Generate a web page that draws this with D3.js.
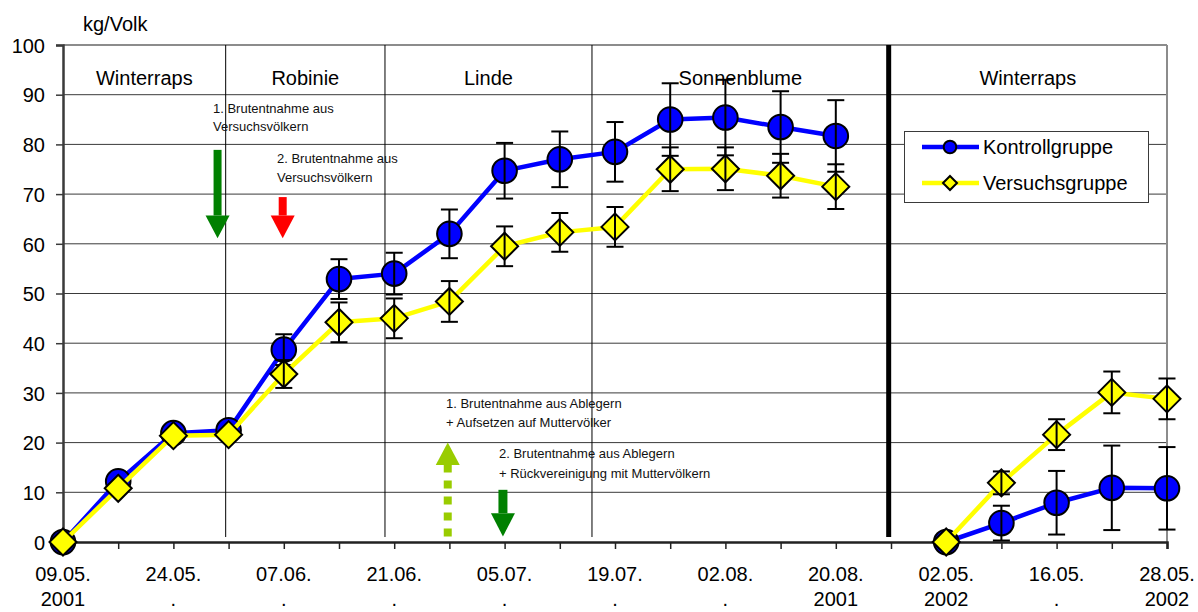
<!DOCTYPE html>
<html>
<head>
<meta charset="utf-8">
<script src="https://cdn.jsdelivr.net/npm/d3@7"></script>
<style>
  html, body { margin: 0; padding: 0; background: #fff; }
  svg { display: block; font-family: "Liberation Sans", Arial, sans-serif; }
</style>
</head>
<body>
<svg id="chart" width="1198" height="612"></svg>
<script>
// ---------- data ----------
const dateLabels = ["09.05.","","24.05.","","07.06.","","21.06.","","05.07.","","19.07.","","02.08.","","20.08.","","02.05.","","16.05.","","28.05."];
const yearLabels = ["2001","",".","",".","",".","",".","",".","",".","","2001","","2002","",".","","2002"];
const kontroll    = [0, 12.2, 21.9, 22.5, 38.7, 52.9, 54.0, 62.0, 74.7, 77.0, 78.5, 85.0, 85.4, 83.5, 81.7, null, 0, 3.8, 7.9, 10.9, 10.8];
const kontrollErr = [0, 0, 0, 0, 3.1, 4.0, 4.2, 4.9, 5.6, 5.6, 6.0, 7.3, 7.6, 7.2, 7.2, null, 0, 3.5, 6.4, 8.5, 8.3];
const versuch     = [0, 10.8, 21.4, 21.6, 33.8, 44.2, 45.0, 48.4, 59.5, 62.3, 63.4, 75.0, 75.1, 73.7, 71.5, null, 0, 11.9, 21.6, 30.1, 28.8];
const versuchErr  = [0, 0, 0, 0, 2.8, 4.0, 4.0, 4.1, 4.0, 3.9, 4.0, 4.4, 4.3, 4.4, 4.5, null, 0, 2.3, 3.1, 4.2, 4.1];
const yTicks = [0, 10, 20, 30, 40, 50, 60, 70, 80, 90, 100];
const seasons = ["Winterraps", "Robinie", "Linde", "Sonnenblume", "Winterraps"];
const seasonBounds = [0, 2.947, 5.833, 9.583, 14.958, 20]; // in category units
const seriesNames = ["Kontrollgruppe", "Versuchsgruppe"];

// ---------- layout ----------
const svg = d3.select("#chart");
const x = d3.scaleLinear().domain([0, 20]).range([63, 1167]);
const y = d3.scaleLinear().domain([0, 100]).range([542, 45]);
const FONT = 20;

// horizontal gridlines
svg.append("g").selectAll("line").data(yTicks.filter(t => t > 0 && t < 100)).join("line")
  .attr("x1", x(0)).attr("x2", x(20)).attr("y1", d => y(d)).attr("y2", d => y(d))
  .attr("stroke", "#3a3a3a").attr("stroke-width", 1);

// plot border (top & right, gray)
svg.append("line").attr("x1", x(0)).attr("x2", x(20)).attr("y1", y(100)).attr("y2", y(100))
  .attr("stroke", "#8c8c8c").attr("stroke-width", 2);
svg.append("line").attr("x1", x(20)).attr("x2", x(20)).attr("y1", y(100)).attr("y2", y(0))
  .attr("stroke", "#8c8c8c").attr("stroke-width", 2);

// season separators
const seps = seasonBounds.slice(1, -1);
svg.append("g").selectAll("line").data(seps).join("line")
  .attr("x1", d => x(d)).attr("x2", d => x(d))
  .attr("y1", y(100)).attr("y2", y(1))
  .attr("stroke", "#000")
  .attr("stroke-width", (d, i) => i === seps.length - 1 ? 5 : 1);

// season labels
svg.append("g").selectAll("text").data(seasons).join("text")
  .attr("x", (d, i) => (x(seasonBounds[i]) + x(seasonBounds[i + 1])) / 2)
  .attr("y", 85)
  .attr("text-anchor", "middle").attr("font-size", FONT).attr("fill", "#000")
  .text(d => d);

// y axis
const yAxis = d3.axisLeft(y).tickValues(yTicks).tickSize(7).tickPadding(11).tickFormat(d3.format("d"));
const gy = svg.append("g").attr("transform", `translate(${x(0)},0)`).call(yAxis);
gy.select(".domain").attr("stroke", "#3a3a3a").attr("stroke-width", 2.5);
gy.selectAll(".tick line").attr("stroke", "#3a3a3a").attr("stroke-width", 1.5);
gy.selectAll(".tick text").attr("font-size", FONT).attr("font-family", "Liberation Sans, Arial, sans-serif")
  .attr("fill", "#000").attr("dy", "0.36em");

// x axis
const xAxis = d3.axisBottom(x).tickValues(d3.range(0, 21)).tickSize(7).tickFormat("");
const gx = svg.append("g").attr("transform", `translate(0,${y(0)})`).call(xAxis);
gx.select(".domain").attr("stroke", "#222").attr("stroke-width", 2.5);
gx.selectAll(".tick line").attr("stroke", "#222").attr("stroke-width", 1.5);

const xl = svg.append("g").selectAll("g").data(d3.range(0, 21)).join("g");
xl.append("text").attr("x", d => x(d)).attr("y", 581).attr("text-anchor", "middle")
  .attr("font-size", FONT).text(d => dateLabels[d]);
xl.append("text").attr("x", d => x(d)).attr("y", 606).attr("text-anchor", "middle")
  .attr("font-size", FONT).text(d => yearLabels[d]);

// y axis title
svg.append("text").attr("x", 83).attr("y", 31).attr("font-size", FONT).text("kg/Volk");

// ---------- annotations ----------
const annText = [
  { x: 213, y: 113, t: "1. Brutentnahme aus" },
  { x: 213, y: 131, t: "Versuchsvölkern" },
  { x: 277, y: 163, t: "2. Brutentnahme aus" },
  { x: 277, y: 182, t: "Versuchsvölkern" },
  { x: 446, y: 408, t: "1. Brutentnahme aus Ablegern" },
  { x: 446, y: 427, t: "+ Aufsetzen auf Muttervölker" },
  { x: 499, y: 458, t: "2. Brutentnahme aus Ablegern" },
  { x: 499, y: 478, t: "+ Rückvereinigung mit Muttervölkern" }
];
svg.append("g").selectAll("text").data(annText).join("text")
  .attr("x", d => d.x).attr("y", d => d.y).attr("font-size", 13).attr("fill", "#111").text(d => d.t);

// arrows (in data units: c = category pos, from/head/tip in kg)
const arrows = [
  { c: 2.80, from: 78.9, head: 65.7, tip: 61.1, shaft: 8, half: 12, color: "#008000", dashed: false },
  { c: 3.98, from: 69.4, head: 65.7, tip: 61.1, shaft: 8, half: 12, color: "#ff0000", dashed: false },
  { c: 6.97, from: 1.1, head: 15.5, tip: 20.0, shaft: 8, half: 12, color: "#99cc00", dashed: true },
  { c: 7.97, from: 10.5, head: 5.8, tip: 1.1, shaft: 9, half: 12, color: "#008000", dashed: false }
];
const ag = svg.append("g");
arrows.forEach(a => {
  const cx = x(a.c);
  ag.append("line").attr("x1", cx).attr("x2", cx).attr("y1", y(a.from)).attr("y2", y(a.head))
    .attr("stroke", a.color).attr("stroke-width", a.shaft)
    .attr("stroke-dasharray", a.dashed ? "8,8" : null);
  ag.append("path")
    .attr("d", `M${cx - a.half},${y(a.head)} L${cx + a.half},${y(a.head)} L${cx},${y(a.tip)} Z`)
    .attr("fill", a.color);
});

// ---------- series ----------
const line = d3.line().defined(d => d != null).x((d, i) => x(i)).y(d => y(d));
const diamond = (cx, cy, h) => `M${cx},${cy - h} L${cx + h},${cy} L${cx},${cy + h} L${cx - h},${cy} Z`;

function drawSeries(vals, errs, color, marker) {
  const g = svg.append("g");
  g.append("path").datum(vals).attr("d", line)
    .attr("fill", "none").attr("stroke", color).attr("stroke-width", 4.5).attr("stroke-linejoin", "round");
  const pts = vals.map((v, i) => ({ v, e: errs[i], i })).filter(d => d.v != null);
  if (marker === "circle") {
    g.selectAll("circle").data(pts).join("circle")
      .attr("cx", d => x(d.i)).attr("cy", d => y(d.v)).attr("r", 12.3)
      .attr("fill", color).attr("stroke", "#000").attr("stroke-width", 2);
  } else {
    g.selectAll("path.mk").data(pts).join("path").attr("class", "mk")
      .attr("d", d => diamond(x(d.i), y(d.v), 13.5))
      .attr("fill", color).attr("stroke", "#000").attr("stroke-width", 2);
  }
  const eb = g.selectAll("g.eb").data(pts.filter(d => d.e > 0)).join("g").attr("class", "eb");
  eb.append("line").attr("x1", d => x(d.i)).attr("x2", d => x(d.i))
    .attr("y1", d => y(d.v + d.e)).attr("y2", d => y(d.v - d.e))
    .attr("stroke", "#000").attr("stroke-width", 2);
  [1, -1].forEach(s => {
    eb.append("line").attr("x1", d => x(d.i) - 8.5).attr("x2", d => x(d.i) + 8.5)
      .attr("y1", d => y(d.v + s * d.e)).attr("y2", d => y(d.v + s * d.e))
      .attr("stroke", "#000").attr("stroke-width", 2);
  });
}
drawSeries(kontroll, kontrollErr, "#0000ff", "circle");
drawSeries(versuch, versuchErr, "#ffff00", "diamond");

// ---------- legend ----------
const lg = svg.append("g");
lg.append("rect").attr("x", 904.5).attr("y", 131.5).attr("width", 244).attr("height", 71)
  .attr("fill", "#fff").attr("stroke", "#3a3a3a").attr("stroke-width", 1);
const legendRows = [
  { name: seriesNames[0], color: "#0000ff", marker: "circle", yy: 147 },
  { name: seriesNames[1], color: "#ffff00", marker: "diamond", yy: 183 }
];
legendRows.forEach(r => {
  lg.append("line").attr("x1", 922).attr("x2", 979).attr("y1", r.yy).attr("y2", r.yy)
    .attr("stroke", r.color).attr("stroke-width", 4.5);
  if (r.marker === "circle") {
    lg.append("circle").attr("cx", 950).attr("cy", r.yy).attr("r", 6.3)
      .attr("fill", r.color).attr("stroke", "#000").attr("stroke-width", 2);
  } else {
    lg.append("path").attr("d", diamond(950, r.yy, 7)).attr("fill", r.color)
      .attr("stroke", "#000").attr("stroke-width", 2);
  }
  lg.append("text").attr("x", 983).attr("y", r.yy + 7).attr("font-size", FONT).text(r.name);
});
</script>
</body>
</html>
